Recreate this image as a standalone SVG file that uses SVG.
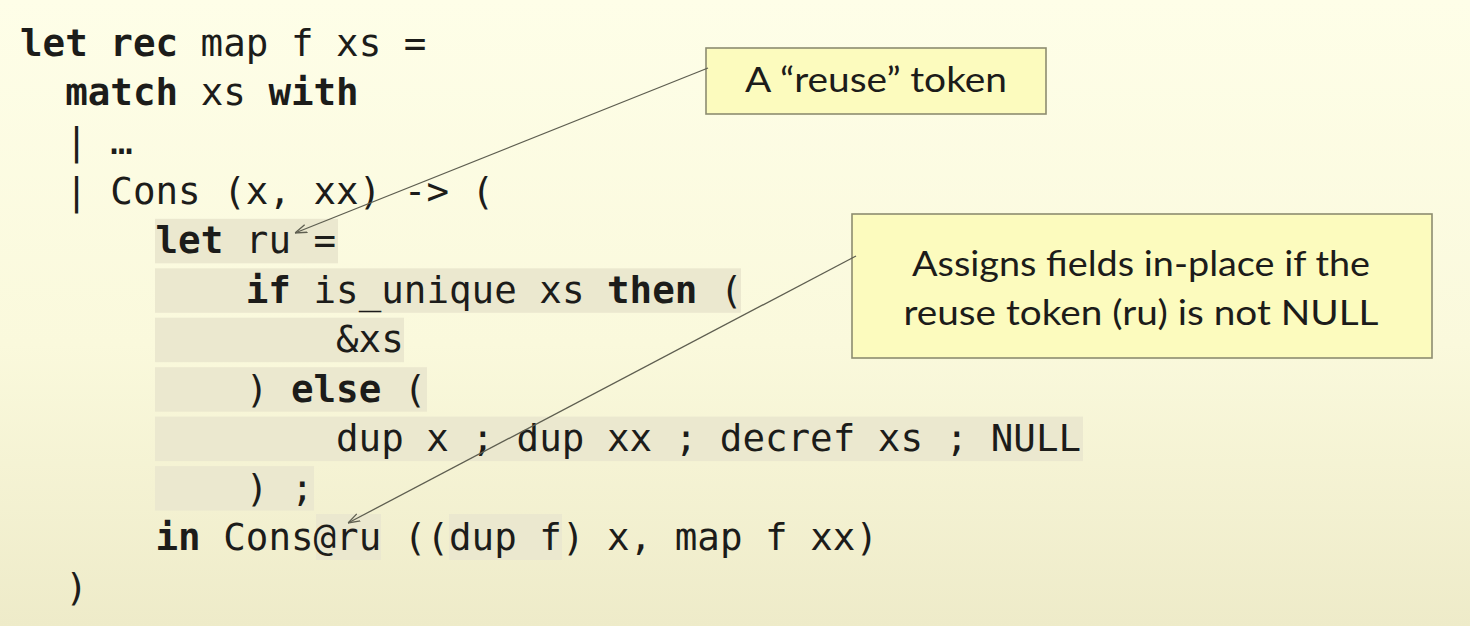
<svg xmlns="http://www.w3.org/2000/svg" width="1470" height="626" viewBox="0 0 1470 626">
  <defs>
    <linearGradient id="bg" x1="0" y1="0" x2="0" y2="1">
      <stop offset="0" stop-color="#FEFEE8"/>
      <stop offset="0.55" stop-color="#FAF9DC"/>
      <stop offset="1" stop-color="#EEEBC9"/>
    </linearGradient>
    <marker id="arr" viewBox="0 0 12 10" refX="12" refY="5" markerWidth="12" markerHeight="10" markerUnits="userSpaceOnUse" orient="auto">
      <path d="M0,1 L12,5 L0,9" fill="none" stroke="#5E5E50" stroke-width="1.3"/>
    </marker>
  </defs>
  <style>
    .code { font-family: "DejaVu Sans Mono", "Liberation Mono", monospace; font-size: 37.5px; fill: #1C1C1A; }
    .kw { font-weight: bold; }
    .hl { fill: #EBE8CF; }
    .box { fill: #FCFBBE; stroke: #8C8C70; stroke-width: 1.6; }
    .note { font-family: Lato, "Open Sans", "Liberation Sans", sans-serif; font-size: 34px; fill: #1C1C1A; }
    .conn { stroke: #5E5E50; stroke-width: 1.3; fill: none; marker-end: url(#arr); }
  </style>
  <rect x="0" y="0" width="1470" height="626" fill="url(#bg)"/>

  <g id="highlights">
    <rect class="hl" x="155" y="218.8" width="183" height="44.5"/>
    <rect class="hl" x="155" y="268.3" width="586" height="44.5"/>
    <rect class="hl" x="155" y="317.7" width="249" height="44.5"/>
    <rect class="hl" x="155" y="367.2" width="272" height="44.5"/>
    <rect class="hl" x="155" y="416.6" width="928" height="44.5"/>
    <rect class="hl" x="155" y="466.1" width="159" height="44.5"/>
    <rect class="hl" x="316" y="514" width="65" height="46"/>
    <rect class="hl" x="449" y="514" width="113" height="46"/>
  </g>

  <g id="code">
    <text class="code" x="20" y="55.5"><tspan class="kw">let rec</tspan> map f xs =</text>
    <text class="code" x="65.2" y="105"><tspan class="kw">match</tspan> xs <tspan class="kw">with</tspan></text>
    <text class="code" x="65.2" y="154.4">| …</text>
    <text class="code" x="65.2" y="203.9">| Cons (x, xx) -&gt; (</text>
    <text class="code" x="155.5" y="253.3"><tspan class="kw">let</tspan> ru =</text>
    <text class="code" x="245.8" y="302.8"><tspan class="kw">if</tspan> is_unique xs <tspan class="kw">then</tspan> (</text>
    <text class="code" x="336" y="352.2">&amp;xs</text>
    <text class="code" x="245.8" y="401.7">) <tspan class="kw">else</tspan> (</text>
    <text class="code" x="336" y="451.1">dup x ; dup xx ; decref xs ; NULL</text>
    <text class="code" x="245.8" y="500.6">) ;</text>
    <text class="code" x="155.5" y="550"><tspan class="kw">in</tspan> Cons@ru ((dup f) x, map f xx)</text>
    <text class="code" x="65.2" y="599.5">)</text>
  </g>

  <g id="note-reuse-token">
    <rect class="box" x="706" y="48" width="340" height="66"/>
    <text class="note" x="876" y="92" text-anchor="middle" textLength="262" lengthAdjust="spacingAndGlyphs">A “reuse” token</text>
  </g>

  <g id="note-assigns">
    <rect class="box" x="852" y="214" width="580" height="144"/>
    <text class="note" x="1141" y="276" text-anchor="middle" textLength="458" lengthAdjust="spacingAndGlyphs">Assigns fields in-place if the</text>
    <text class="note" x="1141" y="325" text-anchor="middle" textLength="475" lengthAdjust="spacingAndGlyphs">reuse token (ru) is not NULL</text>
  </g>

  <g id="connectors">
    <line class="conn" x1="708" y1="68" x2="295" y2="233"/>
    <line class="conn" x1="856" y1="256" x2="348" y2="523"/>
  </g>
</svg>
